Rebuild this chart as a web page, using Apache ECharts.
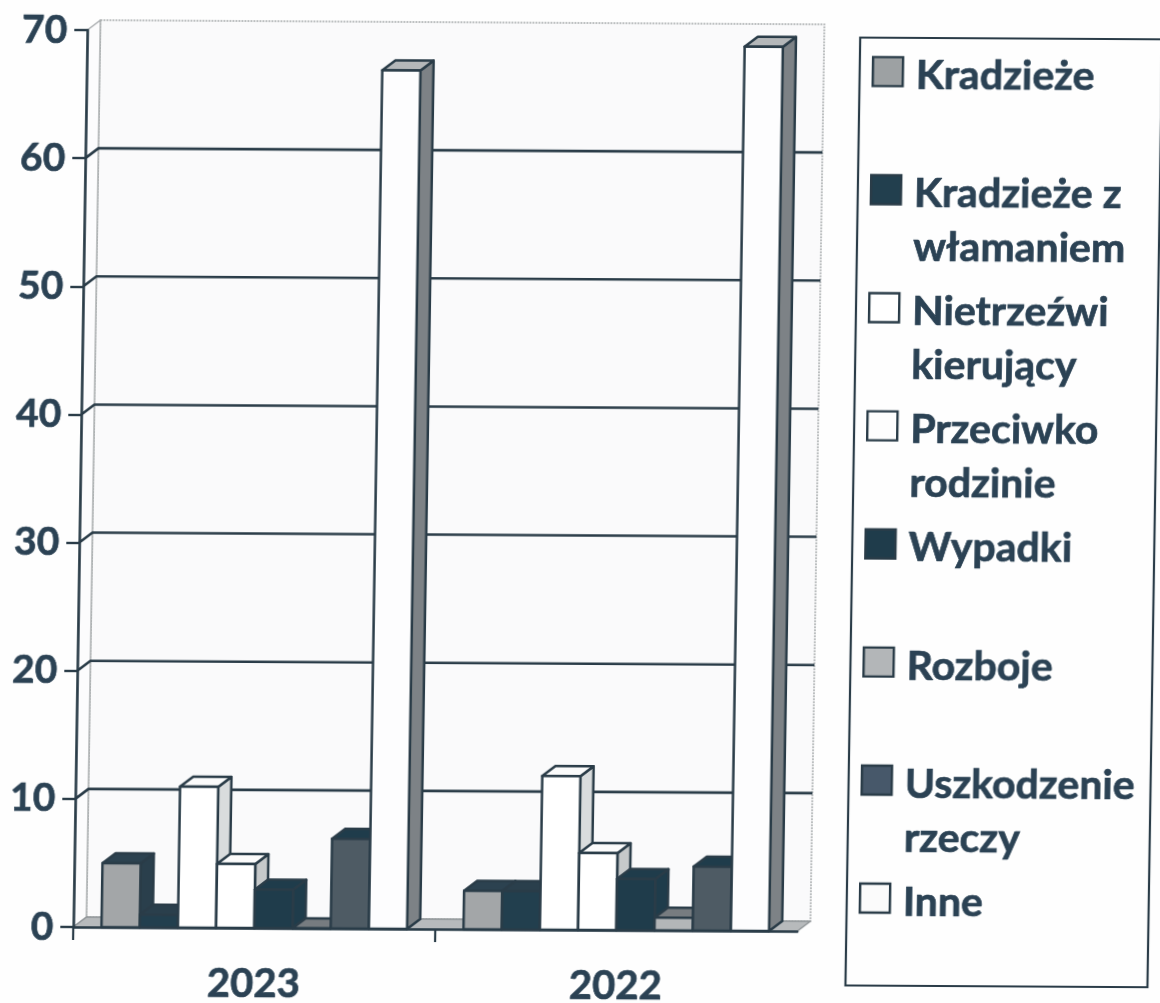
<!DOCTYPE html>
<html><head><meta charset="utf-8">
<style>
html,body{margin:0;padding:0;background:#fefefe;overflow:hidden}
#chart{width:1160px;height:1003px;transform-origin:580px 500px;transform:matrix(1,0.0058,-0.0156,1,0,0)}
</style>
<script src="https://cdn.jsdelivr.net/npm/echarts@6/dist/echarts.min.js"></script>
</head><body><div id="chart"></div>
<script>
const categories = ['2023', '2022'];
const yTicks = [0, 10, 20, 30, 40, 50, 60, 70];
const seriesNames = ['Kradzieże', 'Kradzieże z włamaniem', 'Nietrzeźwi kierujący', 'Przeciwko rodzinie', 'Wypadki', 'Rozboje', 'Uszkodzenie rzeczy', 'Inne'];
const legendLines = [['Kradzieże'], ['Kradzieże z', 'włamaniem'], ['Nietrzeźwi', 'kierujący'], ['Przeciwko', 'rodzinie'], ['Wypadki'], ['Rozboje'], ['Uszkodzenie', 'rzeczy'], ['Inne']];
const kradzieze = [5, 3];
const wlamania = [1, 3];
const nietrzezwi = [11, 12];
const rodzina = [5, 6];
const wypadki = [3, 4];
const rozboje = [0, 1];
const uszkodzenia = [7, 5];
const inne = [67, 69];
const seriesValues = [kradzieze, wlamania, nietrzezwi, rodzina, wypadki, rozboje, uszkodzenia, inne];

const INK = '#2a3c48';
const TEXT = '#2b4254';
const FONT = 'Lato';
const faces = [
  {front:'#a3a6a8', top:'#2c4250', side:'#2a3f4c', legend:'#9da1a3'},
  {front:'#223f4e', top:'#2a3f4c', side:'#223f4e', legend:'#223f4e'},
  {front:'#ffffff', top:'#fbfbfb', side:'#d9dcdd', legend:'#ffffff'},
  {front:'#ffffff', top:'#fbfbfb', side:'#c6c9ca', legend:'#fdfdfd'},
  {front:'#1f3c4b', top:'#1f3c4b', side:'#1f3c4b', legend:'#1f3c4b'},
  {front:'#b3b6b8', top:'#777c80', side:'#777c80', legend:'#b3b6b8'},
  {front:'#4e5b64', top:'#1f3c4b', side:'#1f3c4b', legend:'#47586a'},
  {front:'#fdfdfe', top:'#b4b7b9', side:'#7d8286', legend:'#fbfbfb'}
];
const BAR_W = 38.2, DX = 13, DY = -10;

function poly(points, fill, stroke, lw) {
  return {type:'polygon', shape:{points}, style:{fill, stroke: stroke || INK, lineWidth: lw === undefined ? 2.5 : lw, lineJoin:'round'}};
}
function renderFrame(params, api) {
  const band = api.size([1, 0])[0];
  const o = api.coord([0, 0]); const left = o[0] - band / 2, right = left + band * categories.length, base = o[1];
  const topY = api.coord([0, 70])[1];
  const kids = [];
  kids.push({type:'rect', shape:{x:left + DX, y:topY + DY, width:band * categories.length, height:base - topY},
    style:{fill:'#fafafb', stroke:'#a9adaf', lineWidth:1.5, lineDash:[2, 1]}});
  kids.push(poly([[left, topY], [left + DX, topY + DY], [left + DX, base + DY], [left, base]], '#fcfcfd', '#a9adaf', 1.5));
  yTicks.forEach(t => {
    if (t === 0 || t === 70) return;
    const y = api.coord([0, t])[1];
    kids.push({type:'polyline', shape:{points:[[left, y], [left + DX, y + DY], [right + DX, y + DY]]},
      style:{fill:null, stroke:INK, lineWidth:2.6}});
  });
  kids.push(poly([[left, base], [right, base], [right + DX, base + DY], [left + DX, base + DY]], '#b7babc', '#8f9497', 1.5));
  for (let i = 0; i < categories.length; i++) {
    const x = left + band * i;
    kids.push({type:'line', shape:{x1:x, y1:base, x2:x, y2:base + 13}, style:{stroke:INK, lineWidth:2.2}});
  }
  return {type:'group', children:kids};
}
function renderBar(params, api) {
  const idx = params.seriesIndex - 1;
  const c = api.coord([api.value(0), api.value(1)]);
  const b = api.coord([api.value(0), 0]);
  const band = api.size([1, 0])[0];
  const x0 = c[0] - band / 2 + (band - BAR_W * seriesNames.length) / 2 + idx * BAR_W;
  const x1 = x0 + BAR_W, y0 = b[1], y1 = c[1], f = faces[idx];
  return {type:'group', children:[
    poly([[x1, y0], [x1 + DX, y0 + DY], [x1 + DX, y1 + DY], [x1, y1]], f.side),
    poly([[x0, y1], [x1, y1], [x1 + DX, y1 + DY], [x0 + DX, y1 + DY]], f.top),
    poly([[x0, y0], [x1, y0], [x1, y1], [x0, y1]], f.front)
  ]};
}
const series = [{type:'custom', name:'frame', silent:true, data:[[categories[0], 0]], encode:{x:0, y:1}, renderItem:renderFrame, z:1}];
seriesNames.forEach((name, i) => series.push({
  type:'custom', name, z:2 + i, encode:{x:0, y:1},
  itemStyle:{color:faces[i].legend, borderColor:INK, borderWidth:2.4},
  data:seriesValues[i].map((v, k) => [categories[k], v]),
  renderItem:renderBar
}));
const heavy = {fontFamily:FONT, fontWeight:'bold', color:TEXT, textBorderColor:TEXT, textBorderWidth:0.7};
const chart = echarts.init(document.getElementById('chart'));
chart.setOption({
  animation:false,
  backgroundColor:'transparent',
  grid:{left:80, right:356, top:33, bottom:73, outerBoundsMode:'none'},
  xAxis:{type:'category', data:categories, axisTick:{show:false},
    axisLine:{lineStyle:{color:INK, width:2.6}},
    axisLabel:{...heavy, fontSize:40, margin:36}, z:20},
  yAxis:{type:'value', min:0, max:70, interval:10, splitLine:{show:false},
    axisLine:{show:true, lineStyle:{color:INK, width:2.6}},
    axisTick:{show:true, length:13, lineStyle:{color:INK, width:2.4}},
    axisLabel:{...heavy, fontSize:39, margin:20}, z:20},
  legend:{orient:'vertical', left:865, top:-5, height:1300, padding:0, itemWidth:30, itemHeight:29, itemGap:-35.6,
    selectedMode:false, icon:'rect', data:seriesNames,
    itemStyle:{borderColor:INK, borderWidth:2.4},
    formatter:n => {
      const l = legendLines[seriesNames.indexOf(n)];
      return '{b|\u00a0}\n{t|' + l[0] + '}\n{t|' + (l[1] || '\u00a0') + '}';
    },
    textStyle:{...heavy, fontSize:41, padding:[0,0,0,8],
      rich:{b:{...heavy, fontSize:41, lineHeight:62}, t:{...heavy, fontSize:41, lineHeight:54}}}},
  graphic:[{type:'rect', z:-1, shape:{x:853, y:36, width:302, height:948}, style:{fill:'none', stroke:INK, lineWidth:2.2}}],
  series
});
</script></body></html>
